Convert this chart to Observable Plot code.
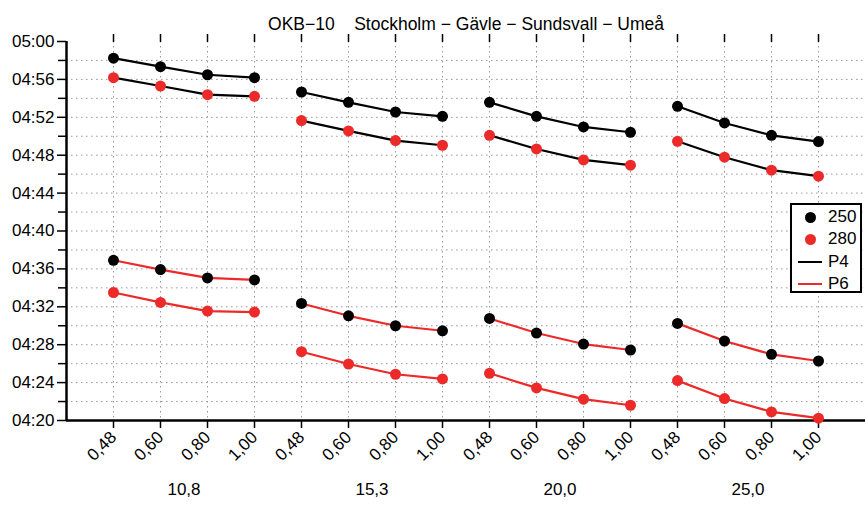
<!DOCTYPE html>
<html>
<head>
<meta charset="utf-8">
<script src="https://cdn.jsdelivr.net/npm/d3@7"></script>
<script src="https://cdn.jsdelivr.net/npm/@observablehq/plot@0.6"></script>
<style>
  body { margin: 0; background: #fff; }
  #wrap { position: relative; width: 865px; height: 506px; font-family: "Liberation Sans", Arial, sans-serif; }
  #legend { position: absolute; left: 790px; top: 203px; width: 68px; height: 86px; border: 2px solid #000; background: #fff; font-size: 17px; }
  .row { position: absolute; left: 0; height: 22px; display: flex; align-items: center; }
  .sym { width: 36px; display: flex; justify-content: center; align-items: center; }
  .dot { width: 11px; height: 11px; border-radius: 50%; }
  .ln { width: 24px; height: 2px; }
</style>
</head>
<body>
<div id="wrap"></div>
<script>
const title = "OKB−10\u00A0\u00A0\u00A0\u00A0Stockholm − Gävle − Sundsvall − Umeå";
const groups = ["10,8", "15,3", "20,0", "25,0"];
const levels = ["0,48", "0,60", "0,80", "1,00"];
// minutes after 04:00
const p4_250 = [58.24,57.34,56.49,56.18, 54.67,53.58,52.56,52.10, 53.58,52.10,50.98,50.42, 53.16,51.40,50.10,49.44];
const p4_280 = [56.18,55.30,54.39,54.21, 51.65,50.56,49.54,49.05, 50.10,48.66,47.50,46.95, 49.47,47.79,46.42,45.79];
const p6_250 = [36.91,35.93,35.05,34.84, 32.35,31.05,30.00,29.47, 30.77,29.23,28.07,27.44, 30.25,28.39,26.98,26.28];
const p6_280 = [33.51,32.46,31.55,31.44, 27.26,25.96,24.88,24.39, 24.98,23.44,22.25,21.61, 24.21,22.32,20.91,20.25];
const yTicks = [20,24,28,32,36,40,44,48,52,56,60];

const RED = "#ec2a2a";
const series = [
  {name: "250", prof: "P4", vals: p4_250},
  {name: "280", prof: "P4", vals: p4_280},
  {name: "250", prof: "P6", vals: p6_250},
  {name: "280", prof: "P6", vals: p6_280}
];
const data = [];
series.forEach((s, si) => {
  s.vals.forEach((v, i) => {
    const g = Math.floor(i / 4);
    data.push({pos: i + 1, v, dot: s.name, prof: s.prof, key: si + "-" + g});
  });
});
const positions = d3.range(1, 17);
const fmtY = m => m >= 60 ? "05:00" : "04:" + String(m).padStart(2, "0");

const chart = Plot.plot({
  width: 865,
  height: 506,
  marginLeft: 66,
  marginRight: 0,
  marginTop: 41,
  marginBottom: 86,
  style: {fontFamily: '"Liberation Sans", Arial, sans-serif', background: "#fff", overflow: "visible"},
  x: {type: "linear", domain: [0, 17]},
  y: {type: "linear", domain: [20, 60]},
  marks: [
    Plot.gridY(d3.range(22, 60, 2), {stroke: "#999", strokeOpacity: 1, strokeDasharray: "1.5,3.5"}),
    Plot.gridX(positions, {stroke: "#999", strokeOpacity: 1, strokeDasharray: "1.5,3.5"}),
    Plot.axisY(d3.range(22, 60, 2).filter(d => d % 4 !== 0), {tickSize: 8, tickFormat: () => "", strokeWidth: 1.5, label: null}),
    Plot.axisY(yTicks, {tickSize: 9, tickPadding: 3, tickFormat: fmtY, fontSize: 17, strokeWidth: 1.5, label: null}),
    Plot.axisX(positions, {tickSize: 8, tickPadding: 6, tickRotate: -45, tickFormat: d => levels[(d - 1) % 4], fontSize: 17, strokeWidth: 1.5, label: null}),
    Plot.axisX(positions, {anchor: "top", tickSize: 8, tickFormat: () => "", strokeWidth: 1.5, label: null}),
    Plot.ruleX([0], {strokeWidth: 2.5}),
    Plot.ruleY([20], {strokeWidth: 2.5}),
    Plot.line(data, {x: "pos", y: "v", z: "key", stroke: d => d.prof === "P4" ? "#000" : RED, strokeWidth: 2.2}),
    Plot.dot(data, {x: "pos", y: "v", r: 5.5, fill: d => d.dot === "250" ? "#000" : RED, stroke: "none"}),
    Plot.text(groups, {x: (d, i) => 4 * i + 2.5, frameAnchor: "bottom", dy: 74, text: d => d, fontSize: 17}),
    Plot.text([title], {frameAnchor: "top", dy: -24, text: d => d, fontSize: 17.5})
  ]
});
const wrap = document.getElementById("wrap");
wrap.appendChild(chart);

const legend = document.createElement("div");
legend.id = "legend";
const items = [
  {t: "250", kind: "dot", c: "#000"},
  {t: "280", kind: "dot", c: RED},
  {t: "P4", kind: "ln", c: "#000"},
  {t: "P6", kind: "ln", c: RED}
];
items.forEach((it, i) => {
  const row = document.createElement("div");
  row.className = "row";
  row.style.top = (1 + i * 22.3) + "px";
  const sym = document.createElement("div");
  sym.className = "sym";
  const m = document.createElement("div");
  m.className = it.kind;
  m.style.background = it.c;
  sym.appendChild(m);
  const lab = document.createElement("span");
  lab.textContent = it.t;
  row.appendChild(sym);
  row.appendChild(lab);
  legend.appendChild(row);
});
wrap.appendChild(legend);
</script>
</body>
</html>
